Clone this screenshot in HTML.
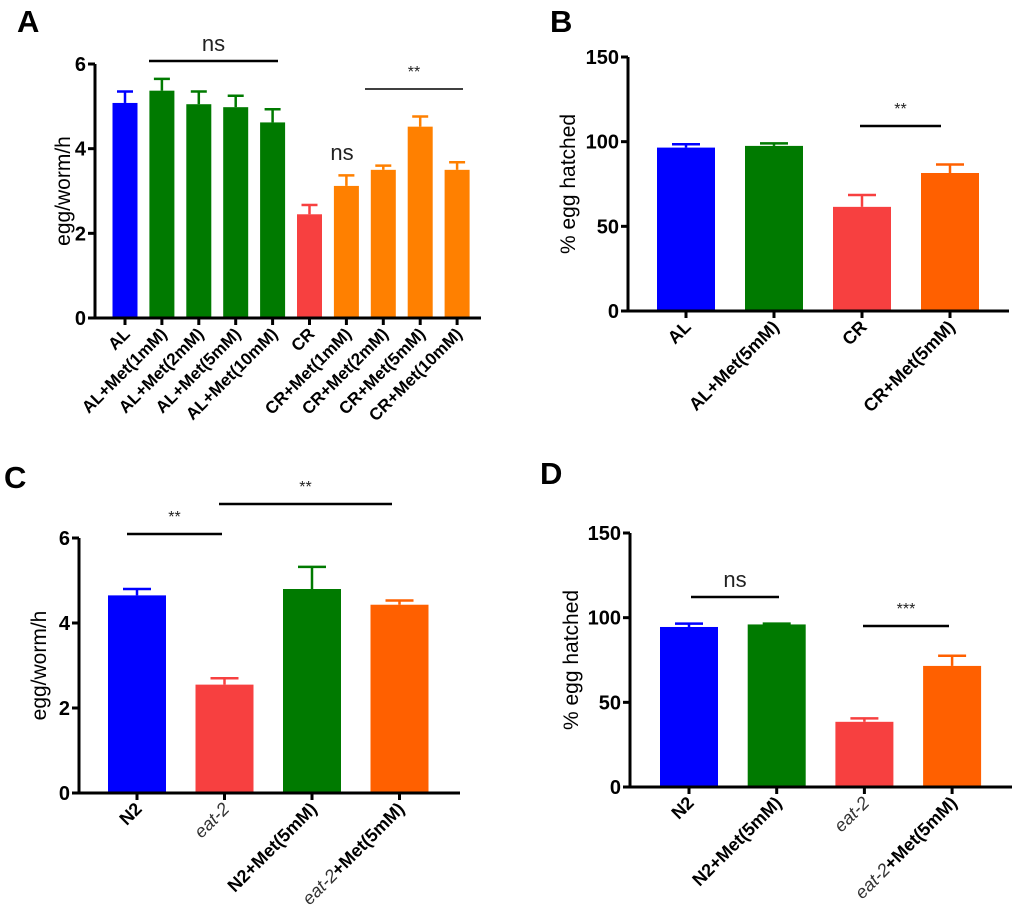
<!DOCTYPE html>
<html><head><meta charset="utf-8"><style>
html,body{margin:0;padding:0;background:#fff;}
svg{display:block;font-family:"Liberation Sans",Arial,sans-serif;}
</style></head><body>
<svg id="fig" width="1020" height="922" viewBox="0 0 1020 922">
<text x="17" y="32" font-size="31" font-weight="bold">A</text>
<text x="550" y="32" font-size="31" font-weight="bold">B</text>
<text x="4" y="488" font-size="31" font-weight="bold">C</text>
<text x="540" y="484" font-size="31" font-weight="bold">D</text>
</svg>
<script>
// Panel A
const catsA = ["AL","AL+Met(1mM)","AL+Met(2mM)","AL+Met(5mM)","AL+Met(10mM)","CR","CR+Met(1mM)","CR+Met(2mM)","CR+Met(5mM)","CR+Met(10mM)"];
const valsA = [5.08,5.37,5.05,4.98,4.62,2.45,3.12,3.5,4.52,3.5];
const errA  = [0.27,0.28,0.3,0.27,0.31,0.22,0.25,0.1,0.24,0.18];
const colA  = ["#0000ff","#007a00","#007a00","#007a00","#007a00","#f74040","#ff8000","#ff8000","#ff8000","#ff8000"];
const ticksA = [0,2,4,6];
// Panel B
const catsB = ["AL","AL+Met(5mM)","CR","CR+Met(5mM)"];
const valsB = [96.5,97.5,61.5,81.5];
const errB  = [2,1.5,7,5];
const colB  = ["#0000ff","#007a00","#f74040","#ff6000"];
const ticksB = [0,50,100,150];
// Panel C
const catsC = ["N2","eat-2","N2+Met(5mM)","eat-2+Met(5mM)"];
const valsC = [4.65,2.55,4.8,4.43];
const errC  = [0.15,0.15,0.52,0.1];
const colC  = ["#0000ff","#f74040","#007a00","#ff6000"];
const ticksC = [0,2,4,6];
// Panel D
const catsD = ["N2","N2+Met(5mM)","eat-2","eat-2+Met(5mM)"];
const valsD = [94.5,96,38.5,71.5];
const errD  = [2,0.5,2,6];
const colD  = ["#0000ff","#007a00","#f74040","#ff6000"];
const ticksD = [0,50,100,150];

const NS="http://www.w3.org/2000/svg";
const svg=document.getElementById('fig');
function mk(tag,attrs,parent){const e=document.createElementNS(NS,tag);for(const k in attrs)e.setAttribute(k,attrs[k]);(parent||svg).appendChild(e);return e;}

function panel(p){
  const g=mk('g',{});
  
  
  const y=v=>p.y0-(v-p.min)/(p.max-p.min)*(p.y0-p.yTop);
  const x=i=>p.c0+i*p.step;
  p.vals.forEach((v,i)=>{
    const cx=x(i);
    const err=mk('g',{},g);
    
    
    mk('line',{x1:cx,x2:cx,y1:y(v),y2:y(v+p.err[i]),stroke:p.col[i],'stroke-width':2.5},err);
    mk('line',{x1:cx-p.capW,x2:cx+p.capW,y1:y(v+p.err[i]),y2:y(v+p.err[i]),stroke:p.col[i],'stroke-width':2.5},err);
    const r=mk('rect',{x:cx-p.bw/2,y:y(v),width:p.bw,height:p.y0-y(v),fill:p.col[i]},g);
    
    
  });
  const ya=mk('line',{x1:p.ax,x2:p.ax,y1:p.yTop,y2:p.y0+1.5,stroke:'#000','stroke-width':3},g);
  
  
  const xa=mk('line',{x1:p.ax-1.5,x2:p.xEnd,y1:p.y0,y2:p.y0,stroke:'#000','stroke-width':3},g);
  
  
  p.ticks.forEach(t=>{
    mk('line',{x1:p.ax-7,x2:p.ax,y1:y(t),y2:y(t),stroke:'#000','stroke-width':3},g);
    const tl=mk('text',{x:p.ax-9,y:y(t)+7,'text-anchor':'end','font-size':20,'font-weight':'bold'},g);
    tl.textContent=t;
    
    
  });
  p.cats.forEach((c,i)=>{
    const cx=x(i);
    mk('line',{x1:cx,x2:cx,y1:p.y0,y2:p.y0+7,stroke:'#000','stroke-width':3},g);
    const t=mk('text',{transform:`translate(${cx+6},${p.y0+17}) rotate(-45)`,'text-anchor':'end','font-size':p.fs,'font-weight':'bold'},g);
    
    
    if(c.startsWith('eat-2')){
      const it=mk('tspan',{'font-style':'italic','font-weight':'normal',fill:'#333'},t);it.textContent='eat-2';
      if(c.length>5){const r=mk('tspan',{},t);r.textContent=c.slice(5);}
    } else t.textContent=c;
  });
  const yt=mk('text',{transform:`translate(${p.titleX},${(p.y0+p.yTop)/2}) rotate(-90)`,'text-anchor':'middle','font-size':21},g);
  yt.textContent=p.title;
  
  
  p.sig.forEach(s=>{
    const sl=mk('line',{x1:s[0],x2:s[1],y1:s[2],y2:s[2],stroke:'#000','stroke-width':s[4]||2.5},g);
    
    
    const isNs=s[3]=='ns';
    const st=mk('text',{x:(s[0]+s[1])/2,y:isNs?s[2]-10:s[2]-12,'text-anchor':'middle','font-size':isNs?22:16,fill:'#222'},g);
    st.textContent=s[3];
    
    
  });
}

panel({name:'panel-a-chart',cats:catsA,vals:valsA,err:errA,col:colA,ticks:ticksA,min:0,max:6,y0:318,yTop:64,ax:95,xEnd:481,c0:125,step:36.9,bw:25,capW:8,fs:17,titleX:70,title:'egg/worm/h',
  sig:[[149,278,61,'ns',2.5],[365,463,89,'**',1.5]]});
(function(){const t=mk('text',{x:342,y:160,'text-anchor':'middle','font-size':22,fill:'#222'});t.textContent='ns';

})();
panel({name:'panel-b-chart',cats:catsB,vals:valsB,err:errB,col:colB,ticks:ticksB,min:0,max:150,y0:311,yTop:57,ax:628,xEnd:1009,c0:686,step:88,bw:58,capW:14,fs:18,titleX:575,title:'% egg hatched',
  sig:[[860,941,126,'**']]});
panel({name:'panel-c-chart',cats:catsC,vals:valsC,err:errC,col:colC,ticks:ticksC,min:0,max:6,y0:793,yTop:538,ax:79,xEnd:460,c0:137,step:87.5,bw:58,capW:14,fs:18,titleX:46,title:'egg/worm/h',
  sig:[[127,222,534,'**'],[219,392,504,'**']]});
panel({name:'panel-d-chart',cats:catsD,vals:valsD,err:errD,col:colD,ticks:ticksD,min:0,max:150,y0:787,yTop:533,ax:630,xEnd:1012,c0:689,step:87.7,bw:58,capW:14,fs:18,titleX:578,title:'% egg hatched',
  sig:[[691,779,597,'ns'],[863,949,626,'***']]});
</script>
</body></html>
